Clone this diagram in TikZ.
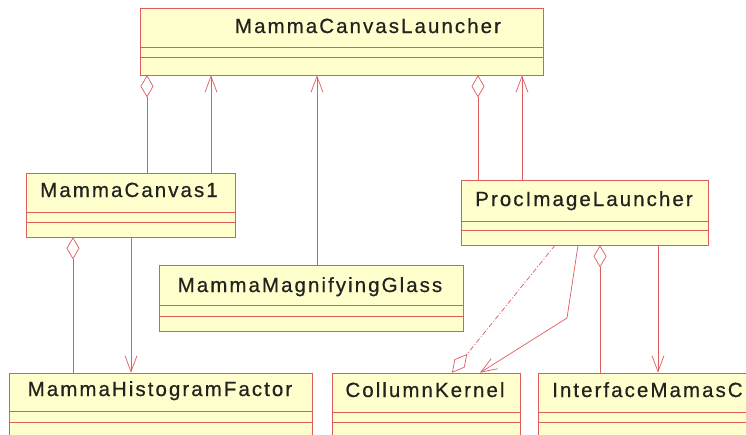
\documentclass[tikz,border=0pt]{standalone}
\usepackage{fontspec}
\newfontfamily\classfont{Liberation Sans}[LetterSpace=10, FakeBold=0.6]
\usetikzlibrary{arrows.meta,fit}

\definecolor{umlred}{RGB}{222,92,92}
\definecolor{umlfill}{RGB}{255,255,206}
\definecolor{umltext}{RGB}{34,34,30}

\tikzset{
  classbox/.style={draw=umlred, fill=umlfill, line width=0.6pt, inner sep=0pt, rectangle},
  sepline/.style={draw=umlred, line width=0.6pt},
  classname/.style={anchor=base, inner sep=0pt, text=umltext,
    font=\classfont\fontsize{20.5}{24}\selectfont},
  link/.style={draw=umlred, line width=0.7pt},
  aggr/.style={link, {Diamond[open, length=22pt, width=13pt]}-},
  aggrend/.style={link, -{Diamond[open, length=24pt, width=13pt]}},
  assoc/.style={link, -{Straight Barb[length=16pt, width=12pt]}},
  inherit/.style={link, {Straight Barb[length=16pt, width=12pt]}-},
  dashlink/.style={dash pattern=on 5pt off 2pt on 1pt off 2pt},
}

\begin{document}
\begin{tikzpicture}[x=1pt, y=-1pt]
  \useasboundingbox (0,0) rectangle (746,434);
  \clip (0,0) rectangle (746,434);
  \fill[white] (0,0) rectangle (746,434);

  % class boxes: outline, compartment lines, name
  \node[classbox, fit={(140,8) (543,75)}] (launcher) {};
  \draw[sepline] (launcher.west |- 0,47) -- (launcher.east |- 0,47)
                 (launcher.west |- 0,57) -- (launcher.east |- 0,57);
  \node[classname] (launcher-name) at (368,33) {MammaCanvasLauncher};

  \node[classbox, fit={(26,173) (235,237)}] (canvas) {};
  \draw[sepline] (canvas.west |- 0,212) -- (canvas.east |- 0,212)
                 (canvas.west |- 0,222) -- (canvas.east |- 0,222);
  \node[classname] (canvas-name) at (129,197) {MammaCanvas1};

  \node[classbox, fit={(461,180) (708,245)}] (proc) {};
  \draw[sepline] (proc.west |- 0,221) -- (proc.east |- 0,221)
                 (proc.west |- 0,230) -- (proc.east |- 0,230);
  \node[classname] (proc-name) at (584,206) {ProcImageLauncher};

  \node[classbox, fit={(159,265) (463,331)}] (glass) {};
  \draw[sepline] (glass.west |- 0,305) -- (glass.east |- 0,305)
                 (glass.west |- 0,316) -- (glass.east |- 0,316);
  \node[classname] (glass-name) at (310,292) {MammaMagnifyingGlass};

  \node[classbox, fit={(9,373) (312,452)}] (hist) {};
  \draw[sepline] (hist.west |- 0,411) -- (hist.east |- 0,411)
                 (hist.west |- 0,422) -- (hist.east |- 0,422);
  \node[classname] (hist-name) at (160,396) {MammaHistogramFactor};

  \node[classbox, fit={(332,373) (520,452)}] (kernel) {};
  \draw[sepline] (kernel.west |- 0,412) -- (kernel.east |- 0,412)
                 (kernel.west |- 0,422) -- (kernel.east |- 0,422);
  \node[classname] (kernel-name) at (425,397) {CollumnKernel};

  \node[classbox, fit={(538,373) (800,452)}] (iface) {};
  \draw[sepline] (iface.west |- 0,412) -- (iface.east |- 0,412)
                 (iface.west |- 0,422) -- (iface.east |- 0,422);
  \node[classname, anchor=base west] (iface-name) at (552,397) {InterfaceMamasC};

  % relations of the launcher
  \draw[aggr]    (launcher.south -| 147,0) -- (canvas.north -| 147,0);
  \draw[inherit] (launcher.south -| 211,0) -- (canvas.north -| 211,0);
  \draw[inherit] (launcher.south -| 317,0) -- (glass.north -| 317,0);
  \draw[aggr]    (launcher.south -| 478,0) -- (proc.north -| 478,0);
  \draw[inherit] (launcher.south -| 522,0) -- (proc.north -| 522,0);

  % relations of MammaCanvas1
  \draw[aggr]  (canvas.south -| 73,0) -- (hist.north -| 73,0);
  \draw[assoc] (canvas.south -| 131,0) -- (hist.north -| 131,0);

  % relations of ProcImageLauncher
  \coordinate (bend) at (567,318);
  \draw[aggrend, dashlink] (proc.south -| 555,0) -- (kernel.north -| 452,0);
  \draw[assoc] (proc.south -| 578,0) -- (bend) -- (kernel.north -| 480,0);
  \draw[aggr]  (proc.south -| 600,0) -- (iface.north -| 600,0);
  \draw[assoc] (proc.south -| 658,0) -- (iface.north -| 658,0);
\end{tikzpicture}
\end{document}
